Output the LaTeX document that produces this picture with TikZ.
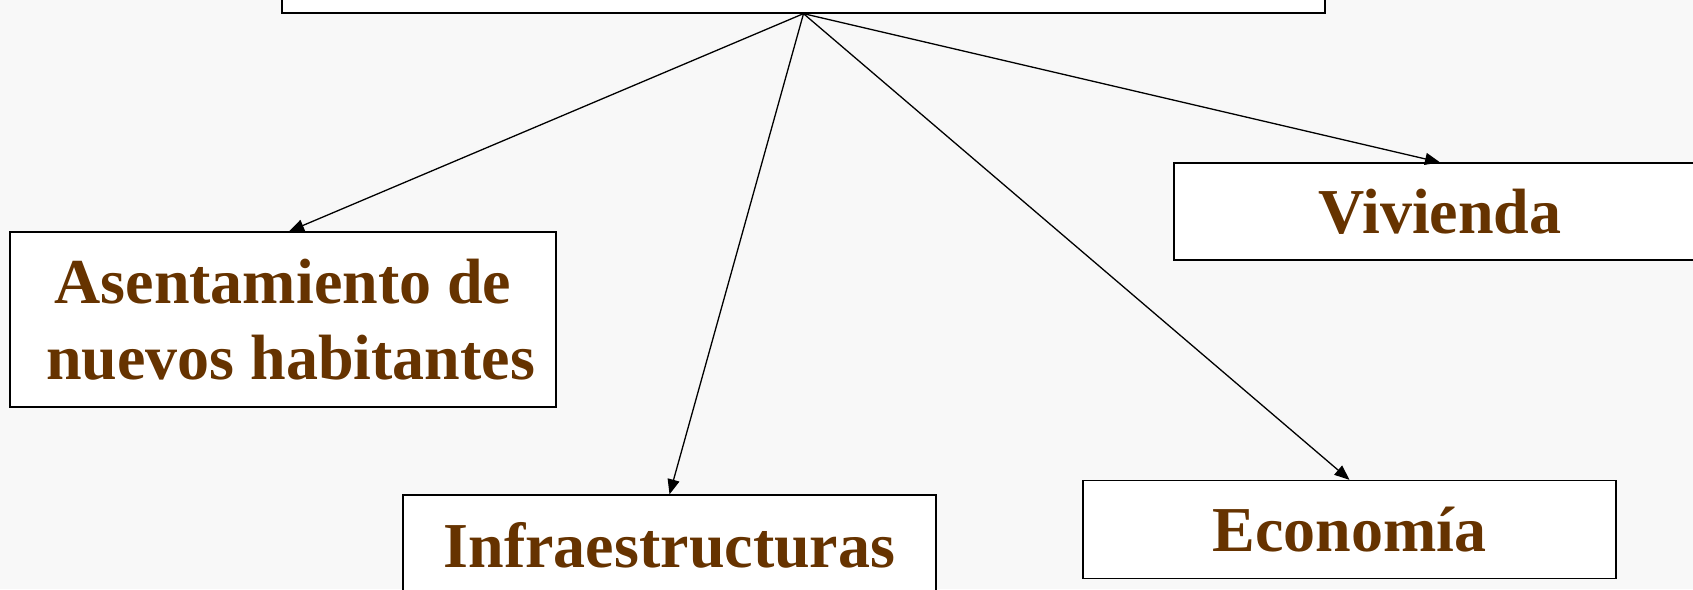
\documentclass[tikz,border=0pt]{standalone}
\usepackage{fontspec}
\setmainfont{Liberation Serif}
\usetikzlibrary{arrows.meta}
\definecolor{bgc}{HTML}{F8F8F8}
\definecolor{txtc}{HTML}{663300}
\tikzset{
  box/.style={draw=black, line width=1.3pt, fill=white, inner sep=0pt,
    font=\bfseries\fontsize{64}{76}\selectfont, text=txtc, align=center},
  conn/.style={line width=1.3pt, -{Triangle[length=15pt,width=12pt]}}
}
\begin{document}
\begin{tikzpicture}[x=1pt,y=-1pt]
\fill[bgc] (0,0) rectangle (1693,589);
\useasboundingbox (0,0) rectangle (1693,589);
\clip (0,0) rectangle (1693,589);
\node[box, minimum width=1043pt, minimum height=80pt] (top) at (803.5,-27) {};
\node[box, minimum width=546pt, minimum height=175pt] (asen) at (283,319.5) {Asentamiento de\\ \hspace*{15pt}nuevos habitantes};
\node[box, minimum width=533pt, minimum height=100pt] (infra) at (669.5,545) {Infraestructuras};
\node[box, minimum width=533pt, minimum height=98pt] (eco) at (1349.5,529.5) {Economía};
\node[box, minimum width=532pt, minimum height=97pt] (viv) at (1440,211.5) {Vivienda};
\draw[conn] (top.south) -- ([xshift=6pt]asen.north);
\draw[conn] (top.south) -- (infra.north);
\draw[conn] (top.south) -- (eco.north);
\draw[conn] (top.south) -- (viv.north);
\end{tikzpicture}
\end{document}
